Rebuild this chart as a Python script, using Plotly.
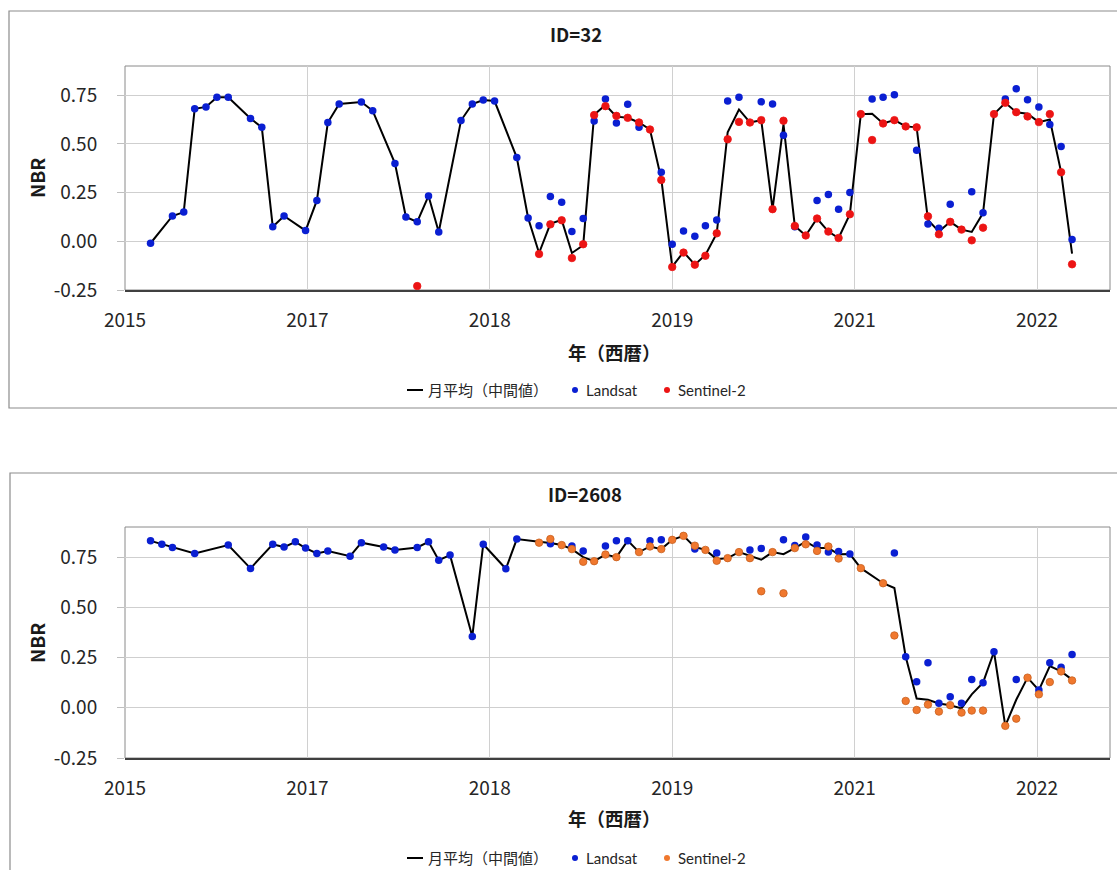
import plotly.graph_objects as go
import pandas as pd

# ---------------- data (monthly values) ----------------
# ID=32
top_line_months = ["2016-01","2016-03","2016-04","2016-05","2016-06","2016-07","2016-08","2016-10","2016-11","2016-12",
                   "2017-01","2017-03","2017-04","2017-05","2017-06","2017-08","2017-09","2017-11","2017-12",
                   "2018-01","2018-02","2018-03","2018-05","2018-06","2018-07","2018-08","2018-10","2018-11","2018-12",
                   "2019-01","2019-02","2019-03","2019-04","2019-05","2019-06","2019-07","2019-08","2019-09","2019-10","2019-11","2019-12",
                   "2020-01","2020-02","2020-03","2020-04","2020-05","2020-06","2020-07","2020-08","2020-09","2020-10","2020-11","2020-12",
                   "2021-01","2021-02","2021-03","2021-04","2021-05","2021-06","2021-07","2021-08","2021-09","2021-10","2021-11","2021-12",
                   "2022-01","2022-02","2022-03","2022-04","2022-05","2022-06","2022-07","2022-08","2022-09","2022-10","2022-11","2022-12"]
top_line_values = [-0.01,0.13,0.15,0.68,0.69,0.74,0.74,0.63,0.585,0.075,
                   0.13,0.055,0.21,0.61,0.705,0.715,0.67,0.40,0.125,
                   0.10,0.233,0.048,0.62,0.705,0.725,0.72,0.43,0.12,-0.06,
                   0.09,0.11,-0.06,-0.02,0.65,0.70,0.64,0.634,0.61,0.574,0.32,-0.13,
                   -0.055,-0.12,-0.07,0.04,0.56,0.677,0.61,0.622,0.165,0.60,0.079,0.03,
                   0.117,0.05,0.017,0.139,0.653,0.655,0.605,0.622,0.59,0.585,0.11,0.05,
                   0.10,0.06,0.048,0.145,0.653,0.711,0.663,0.655,0.612,0.625,0.355,-0.063]

top_landsat_months = ["2016-01","2016-03","2016-04","2016-05","2016-06","2016-07","2016-08","2016-10","2016-11","2016-12",
                      "2017-01","2017-03","2017-04","2017-05","2017-06","2017-08","2017-09","2017-11","2017-12",
                      "2018-01","2018-02","2018-03","2018-05","2018-06","2018-07","2018-08","2018-10","2018-11","2018-12",
                      "2019-01","2019-02","2019-03","2019-04","2019-05","2019-06","2019-07","2019-08","2019-09","2019-11","2019-12",
                      "2020-01","2020-02","2020-03","2020-04","2020-05","2020-06","2020-08","2020-09","2020-10","2020-11",
                      "2021-01","2021-02","2021-03","2021-04","2021-06","2021-07","2021-08","2021-10","2021-11","2021-12",
                      "2022-01","2022-03","2022-04","2022-06","2022-07","2022-08","2022-09","2022-10","2022-11","2022-12"]
top_landsat_values = [-0.01,0.13,0.15,0.68,0.69,0.74,0.74,0.63,0.585,0.075,
                      0.13,0.055,0.21,0.61,0.705,0.715,0.67,0.40,0.125,
                      0.10,0.233,0.048,0.62,0.705,0.725,0.72,0.43,0.12,0.08,
                      0.23,0.20,0.05,0.117,0.617,0.73,0.607,0.703,0.586,0.355,-0.015,
                      0.053,0.026,0.08,0.11,0.72,0.74,0.716,0.705,0.545,0.075,
                      0.21,0.24,0.165,0.25,0.73,0.74,0.752,0.468,0.089,0.067,
                      0.19,0.255,0.146,0.73,0.783,0.727,0.69,0.60,0.487,0.009]

top_s2_months = ["2018-01","2018-12",
                 "2019-01","2019-02","2019-03","2019-04","2019-05","2019-06","2019-07","2019-08","2019-09","2019-10","2019-11","2019-12",
                 "2020-01","2020-02","2020-03","2020-04","2020-05","2020-06","2020-07","2020-08","2020-09","2020-10","2020-11","2020-12",
                 "2021-01","2021-02","2021-03","2021-04","2021-05","2021-06","2021-07","2021-08","2021-09","2021-10","2021-11","2021-12",
                 "2022-01","2022-02","2022-03","2022-04","2022-05","2022-06","2022-07","2022-08","2022-09","2022-10","2022-11","2022-12"]
top_s2_values = [-0.23,-0.065,
                 0.087,0.108,-0.086,-0.015,0.648,0.694,0.644,0.634,0.61,0.574,0.315,-0.132,
                 -0.058,-0.12,-0.074,0.041,0.524,0.613,0.61,0.622,0.165,0.619,0.079,0.03,
                 0.117,0.05,0.017,0.139,0.653,0.52,0.605,0.622,0.59,0.585,0.128,0.036,
                 0.10,0.06,0.005,0.07,0.653,0.711,0.663,0.641,0.612,0.653,0.355,-0.118]

# ID=2608
bot_line_months = ["2016-01","2016-02","2016-03","2016-05","2016-08","2016-10","2016-12",
                   "2017-01","2017-02","2017-03","2017-04","2017-05","2017-07","2017-08","2017-10","2017-11",
                   "2018-01","2018-02","2018-03","2018-04","2018-06","2018-07","2018-09","2018-10","2018-12",
                   "2019-01","2019-02","2019-03","2019-04","2019-05","2019-06","2019-07","2019-08","2019-09","2019-10","2019-11","2019-12",
                   "2020-01","2020-02","2020-03","2020-04","2020-05","2020-06","2020-07","2020-08","2020-09","2020-10","2020-11","2020-12",
                   "2021-01","2021-02","2021-03","2021-04","2021-05","2021-07","2021-08","2021-09","2021-10","2021-11","2021-12",
                   "2022-01","2022-02","2022-03","2022-04","2022-05","2022-06","2022-07","2022-08","2022-09","2022-10","2022-11","2022-12"]
bot_line_values = [0.831,0.814,0.798,0.768,0.81,0.694,0.814,
                   0.80,0.826,0.795,0.768,0.78,0.755,0.822,0.80,0.786,
                   0.798,0.826,0.735,0.76,0.355,0.814,0.692,0.84,0.826,
                   0.82,0.81,0.79,0.75,0.73,0.763,0.75,0.832,0.775,0.803,0.79,0.836,
                   0.856,0.80,0.786,0.74,0.745,0.775,0.757,0.737,0.775,0.765,0.795,0.827,
                   0.795,0.795,0.764,0.765,0.695,0.62,0.596,0.254,0.046,0.04,0.021,
                   0.013,-0.003,0.067,0.125,0.279,-0.09,0.04,0.15,0.088,0.207,0.181,0.14]

bot_landsat_months = ["2016-01","2016-02","2016-03","2016-05","2016-08","2016-10","2016-12",
                      "2017-01","2017-02","2017-03","2017-04","2017-05","2017-07","2017-08","2017-10","2017-11",
                      "2018-01","2018-02","2018-03","2018-04","2018-06","2018-07","2018-09","2018-10",
                      "2019-01","2019-03","2019-04","2019-06","2019-07","2019-08","2019-10","2019-11",
                      "2020-02","2020-04","2020-07","2020-08","2020-10","2020-11","2020-12",
                      "2021-01","2021-02","2021-03","2021-04","2021-08","2021-09","2021-10","2021-11","2021-12",
                      "2022-01","2022-02","2022-03","2022-04","2022-05","2022-07","2022-09","2022-10","2022-11","2022-12"]
bot_landsat_values = [0.831,0.814,0.798,0.768,0.81,0.694,0.814,
                      0.80,0.826,0.795,0.768,0.78,0.755,0.822,0.80,0.786,
                      0.798,0.826,0.735,0.76,0.355,0.814,0.692,0.84,
                      0.816,0.806,0.78,0.806,0.832,0.832,0.832,0.836,
                      0.79,0.77,0.786,0.793,0.836,0.808,0.85,
                      0.81,0.776,0.778,0.765,0.77,0.254,0.13,0.224,0.022,
                      0.055,0.022,0.141,0.125,0.279,0.141,0.088,0.224,0.202,0.265]

bot_s2_months = ["2018-12",
                 "2019-01","2019-02","2019-03","2019-04","2019-05","2019-06","2019-07","2019-09","2019-10","2019-11","2019-12",
                 "2020-01","2020-02","2020-03","2020-04","2020-05","2020-06","2020-07","2020-08","2020-09","2020-10","2020-11","2020-12",
                 "2021-01","2021-02","2021-03","2021-05","2021-07","2021-08","2021-09","2021-10","2021-11","2021-12",
                 "2022-01","2022-02","2022-03","2022-04","2022-06","2022-07","2022-08","2022-09","2022-10","2022-11","2022-12"]
bot_s2_values = [0.822,
                 0.84,0.81,0.79,0.727,0.73,0.763,0.75,0.775,0.803,0.79,0.836,
                 0.856,0.807,0.786,0.732,0.745,0.775,0.745,0.58,0.775,0.57,0.795,0.814,
                 0.781,0.803,0.743,0.695,0.62,0.36,0.034,-0.011,0.016,-0.019,
                 0.013,-0.024,-0.014,-0.014,-0.09,-0.054,0.15,0.067,0.128,0.181,0.136]

# axis: Excel date axis, min 2015-10-23, major unit 500 days, max 2023-03-15
x_axis_min = "2015-10-23"
x_axis_max = "2023-03-15"
x_major_days = 500
x_tick_labels = ["2015", "2017", "2018", "2019", "2021", "2022"]
y_tick_vals = [-0.25, 0.0, 0.25, 0.5, 0.75]
y_tick_labels = ["-0.25", "0.00", "0.25", "0.50", "0.75"]

titles = ["ID=32", "ID=2608"]
series_names = ["月平均（中間値）", "Landsat", "Sentinel-2"]
x_title = "年（西暦）"
y_title = "NBR"

# ---------------- figure ----------------
W, H = 1117, 870
FONT = "Noto Sans CJK JP, Noto Sans, sans-serif"
LEG_FONT = "Lato, Noto Sans CJK JP, sans-serif"
BLUE = "#0a1fd2"
RED = "#ec1414"
ORANGE = "#f0782e"


def px(x):
    return x / W


def py(y):
    return 1 - y / H


tick_dates = [pd.Timestamp(x_axis_min) + pd.Timedelta(days=x_major_days * k) for k in range(len(x_tick_labels))]

fig = go.Figure()

panels = [
    dict(top=66, bottom=290, border=(9, 11, 1120, 408), title_y=34, title_x=576, nbr_y=178, xt_y=352, leg_y=390,
         line=(top_line_months, top_line_values), ls=(top_landsat_months, top_landsat_values),
         s2=(top_s2_months, top_s2_values), s2color=RED, s2line=RED),
    dict(top=527, bottom=758, border=(10, 473, 1120, 875), title_y=494, title_x=585, nbr_y=643, xt_y=818, leg_y=858,
         line=(bot_line_months, bot_line_values), ls=(bot_landsat_months, bot_landsat_values),
         s2=(bot_s2_months, bot_s2_values), s2color=ORANGE, s2line="#c8601e"),
]

PLOT_L, PLOT_R = 125, 1110
shapes = []
annotations = []
for i, p in enumerate(panels):
    sfx = "" if i == 0 else str(i + 1)
    xa, ya = "x" + sfx, "y" + sfx
    fig.add_trace(go.Scatter(x=p["line"][0], y=p["line"][1], mode="lines", name=series_names[0],
                             line=dict(color="black", width=2), xaxis=xa, yaxis=ya, showlegend=False))
    fig.add_trace(go.Scatter(x=p["ls"][0], y=p["ls"][1], mode="markers", name=series_names[1],
                             marker=dict(color=BLUE, size=7.5, line=dict(width=0)), xaxis=xa, yaxis=ya,
                             showlegend=False))
    fig.add_trace(go.Scatter(x=p["s2"][0], y=p["s2"][1], mode="markers", name=series_names[2],
                             marker=dict(color=p["s2color"], size=7.5, line=dict(width=0.8, color=p["s2line"])),
                             xaxis=xa, yaxis=ya, showlegend=False))

    dom_y = [py(p["bottom"]), py(p["top"])]
    fig.update_layout(**{
        "xaxis" + sfx: dict(domain=[px(PLOT_L), px(PLOT_R)], anchor=ya, type="date", automargin=False,
                            range=[x_axis_min, x_axis_max], tickmode="array",
                            tickvals=tick_dates, ticktext=x_tick_labels,
                            showgrid=True, gridcolor="#d0d0d0", gridwidth=1,
                            showline=True, linecolor="#404040", linewidth=1.5,
                            ticks="", ticklabelstandoff=12,
                            tickfont=dict(family=FONT, size=19, color="#262626"), zeroline=False),
        "yaxis" + sfx: dict(domain=dom_y, anchor=xa, range=[-0.25, 0.9], tickmode="array", automargin=False,
                            tickvals=y_tick_vals, ticktext=y_tick_labels,
                            showgrid=True, gridcolor="#cfcfcf", gridwidth=1, zeroline=False,
                            showline=False, ticks="outside", ticklen=7, tickcolor="#bfbfbf",
                            ticklabelstandoff=16,
                            tickfont=dict(family=FONT, size=19, color="#262626")),
    })

    # plot area border
    shapes.append(dict(type="rect", xref="paper", yref="paper", x0=px(PLOT_L), x1=px(PLOT_R),
                       y0=py(p["bottom"]), y1=py(p["top"]), line=dict(color="#8a8a8a", width=1), layer="below"))
    # chart panel border
    bx0, by0, bx1, by1 = p["border"]
    shapes.append(dict(type="rect", xref="paper", yref="paper", x0=px(bx0), x1=px(bx1),
                       y0=py(by1), y1=py(by0), line=dict(color="#8c8c8c", width=1.2)))

    annotations.append(dict(text="<b>" + titles[i] + "</b>", x=px(p["title_x"]), y=py(p["title_y"]),
                            xref="paper", yref="paper", showarrow=False, xanchor="center", yanchor="middle",
                            font=dict(family=FONT, size=18.5, color="#1a1a1a")))
    annotations.append(dict(text="<b>" + y_title + "</b>", x=px(36), y=py(p["nbr_y"]), xref="paper", yref="paper",
                            showarrow=False, textangle=-90, xanchor="center", yanchor="middle",
                            font=dict(family=FONT, size=19, color="#1a1a1a")))
    annotations.append(dict(text="<b>" + x_title + "</b>", x=px(614), y=py(p["xt_y"]), xref="paper", yref="paper",
                            showarrow=False, xanchor="center", yanchor="middle",
                            font=dict(family=FONT, size=18.5, color="#1a1a1a")))

    # legend (drawn like the Excel legend: short line, small dots)
    ly = p["leg_y"]
    shapes.append(dict(type="line", xref="paper", yref="paper", x0=px(407), x1=px(423), y0=py(ly), y1=py(ly),
                       line=dict(color="black", width=2)))
    for cx, col in [(575, BLUE), (667, p["s2color"])]:
        shapes.append(dict(type="circle", xref="paper", yref="paper", x0=px(cx - 3), x1=px(cx + 3),
                           y0=py(ly + 3), y1=py(ly - 3), fillcolor=col, line=dict(width=0)))
    for tx, txt in [(426, series_names[0]), (584, series_names[1]), (676, series_names[2])]:
        annotations.append(dict(text=txt, x=px(tx), y=py(ly), xref="paper", yref="paper", showarrow=False,
                                xanchor="left", yanchor="middle",
                                font=dict(family=LEG_FONT, size=15, color="#262626")))

fig.update_layout(width=W, height=H, margin=dict(l=0, r=0, t=0, b=0),
                  paper_bgcolor="white", plot_bgcolor="white",
                  shapes=shapes, annotations=annotations, showlegend=False,
                  font=dict(family=FONT))

fig.write_html("out.html")
